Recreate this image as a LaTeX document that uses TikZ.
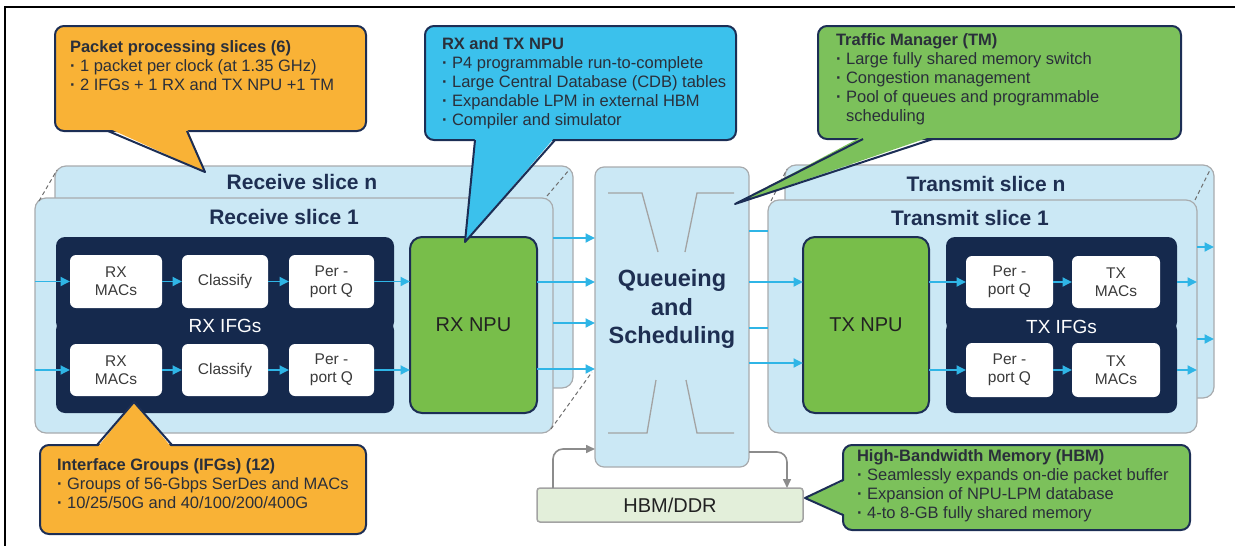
\documentclass[tikz,border=0pt]{standalone}
\usepackage{fontspec}
\setmainfont{Liberation Sans}
\usetikzlibrary{arrows.meta,calc}
\definecolor{navy}{HTML}{15294D}
\definecolor{slicefill}{HTML}{CBE8F5}
\definecolor{slicegray}{HTML}{A8ABAE}
\definecolor{npugreen}{HTML}{78BE4A}
\definecolor{callorange}{HTML}{F9B236}
\definecolor{callblue}{HTML}{3BC1EC}
\definecolor{callgreen}{HTML}{7CC15B}
\definecolor{calledge}{HTML}{1C2E55}
\definecolor{arrowblue}{HTML}{2FB5E6}
\definecolor{hbmfill}{HTML}{E3EFDA}
\definecolor{txtdark}{HTML}{1E2F52}
\definecolor{funnelgray}{HTML}{A3A3A3}
\definecolor{memgray}{HTML}{8C8C8C}
\definecolor{dashgray}{HTML}{6E6E6E}
\definecolor{stagetxt}{HTML}{3A3A3A}
\definecolor{npuTxt}{HTML}{222222}
\definecolor{calltxt}{HTML}{2A2F3A}
\newcommand{\bul}{\textbf{·}~}
\begin{document}
\begin{tikzpicture}[x=1pt,y=-1pt,
 every node/.style={inner sep=0pt, outer sep=0pt},
 slice/.style={draw=slicegray, fill=slicefill, line width=1.2pt, rounded corners=11pt},
 slicetitle/.style={text=txtdark, font=\fontsize{21}{24}\selectfont\bfseries},
 ifgblock/.style={fill=navy, rounded corners=9pt},
 ifglabel/.style={text=white, font=\fontsize{19}{22}\selectfont},
 stage/.style={fill=white, rounded corners=6pt, align=center, text=stagetxt, font=\fontsize{15.5}{18}\selectfont},
 npu/.style={fill=npugreen, draw=calledge, line width=2pt, rounded corners=12pt, text=npuTxt, font=\fontsize{20}{24}\selectfont},
 flow/.style={draw=arrowblue, line width=1.8pt, -{Triangle[length=9.5pt,width=9pt]}},
 flowline/.style={draw=arrowblue, line width=1.8pt},
 memflow/.style={draw=memgray, line width=1.6pt, rounded corners=10pt, -{Triangle[length=9pt,width=8pt]}},
 slicedash/.style={draw=dashgray, line width=1pt, dash pattern=on 4pt off 3pt},
 funnelline/.style={draw=funnelgray, line width=1.3pt},
 cbox/.style={draw=calledge, line width=2pt, rounded corners=9pt},
 cside/.style={draw=calledge, line width=2pt, line join=round},
 ctext/.style={anchor=north west, align=left, text=calltxt, font=\fontsize{16.5}{19}\selectfont},
]
\useasboundingbox (0,0) rectangle (1235,546);
% frame
\draw[line width=2pt] (5,546) -- (5,7) -- (1235,7);

% ---------- receive slices ----------
\node[slice, minimum width=518pt, minimum height=222pt] (rxn) at (314,277) {};
\node[slicetitle] (rxnT) at (302,182) {Receive slice n};
\node[slice, minimum width=518pt, minimum height=235pt] (rx1) at (294,315.5) {};
\node[slicetitle] (rx1T) at (284,217) {Receive slice 1};
\draw[slicedash] (39,201) -- (57,170);
\draw[slicedash] (547,196) -- (569,170);
\draw[slicedash] (551,429) -- (592,372);

% ---------- transmit slices ----------
\node[slice, minimum width=429pt, minimum height=233pt] (txn) at (999.5,281.5) {};
\node[slicetitle] (txnT) at (986,184) {Transmit slice n};
\node[slice, minimum width=429pt, minimum height=233pt] (tx1) at (982.5,316.5) {};
\node[slicetitle] (tx1T) at (970,218) {Transmit slice 1};
\draw[slicedash] (771,201) -- (787,169);
\draw[slicedash] (1195,200) -- (1210,170);

% ---------- RX IFGs ----------
\node[ifgblock, minimum width=338pt, minimum height=94pt] (rxifgA) at (225,284) {};
\node[ifgblock, minimum width=338pt, minimum height=92pt] (rxifgB) at (225,367) {};
\node[ifglabel] (rxifgL) at (225,326) {RX IFGs};
\node[stage, minimum width=92pt, minimum height=53pt] (rxmac1) at (116,281.5) {RX\\MACs};
\node[stage, minimum width=86pt, minimum height=53pt] (rxcls1) at (225,281.5) {Classify};
\node[stage, minimum width=85pt, minimum height=53pt] (rxq1) at (331.5,281.5) {Per -\\port Q};
\node[stage, minimum width=92pt, minimum height=52pt] (rxmac2) at (116,370) {RX\\MACs};
\node[stage, minimum width=86pt, minimum height=52pt] (rxcls2) at (225,370) {Classify};
\node[stage, minimum width=85pt, minimum height=52pt] (rxq2) at (331.5,370) {Per -\\port Q};

% ---------- RX NPU ----------
\node[npu, minimum width=127pt, minimum height=176pt] (rxnpu) at (473.5,325) {RX NPU};

\draw[flow] (rx1.west |- rxmac1.west) -- (rxmac1.west);
\draw[flow] (rxmac1) -- (rxcls1);
\draw[flow] (rxcls1) -- (rxq1);
\draw[flow] (rxq1) -- (rxq1 -| rxnpu.west);
\draw[flow] (rx1.west |- rxmac2.west) -- (rxmac2.west);
\draw[flow] (rxmac2) -- (rxcls2);
\draw[flow] (rxcls2) -- (rxq2);
\draw[flow] (rxq2) -- (rxq2 -| rxnpu.west);

% ---------- TX IFGs ----------
\node[ifgblock, minimum width=231pt, minimum height=94pt] (txifgA) at (1061.5,284) {};
\node[ifgblock, minimum width=231pt, minimum height=92pt] (txifgB) at (1061.5,367) {};
\node[ifglabel] (txifgL) at (1061.5,327) {TX IFGs};
\node[stage, minimum width=87pt, minimum height=52pt] (txq1) at (1009.5,282) {Per -\\port Q};
\node[stage, minimum width=88pt, minimum height=52pt] (txmac1) at (1116,282) {TX\\MACs};
\node[stage, minimum width=87pt, minimum height=54pt] (txq2) at (1009.5,370) {Per -\\port Q};
\node[stage, minimum width=88pt, minimum height=54pt] (txmac2) at (1116,370) {TX\\MACs};

% ---------- TX NPU ----------
\node[npu, minimum width=126pt, minimum height=176pt] (txnpu) at (866,325) {TX NPU};

\draw[flow] (txnpu.east |- txq1) -- (txq1);
\draw[flow] (txq1) -- (txmac1);
\draw[flow] (txnpu.east |- txq2) -- (txq2);
\draw[flow] (txq2) -- (txmac2);
\draw[flow] (txifgA.east |- txmac1) -- (tx1.east |- txmac1);
\draw[flow] (txifgB.east |- txmac2) -- (tx1.east |- txmac2);
\draw[flow] (tx1.east |- 0,247) -- (txn.east |- 0,247);
\draw[flow] (tx1.east |- 0,339) -- (txn.east |- 0,339);

% ---------- Queueing and Scheduling ----------
\node[slice, rounded corners=9pt, minimum width=154pt, minimum height=300pt] (qs) at (672,317) {};
\draw[funnelline] (608,193) -- (642,193) -- (658,252);
\draw[funnelline] (734,193) -- (697,193) -- (685,252);
\draw[funnelline] (608,433) -- (647,433) -- (656,380);
\draw[funnelline] (734,433) -- (697,433) -- (686,380);
\node[text=txtdark, font=\fontsize{23.5}{28.5}\selectfont\bfseries, align=center] (qsT) at (672,309) {Queueing\\and\\Scheduling};

\draw[flow] (rx1.east |- 0,238) -- (qs.west |- 0,238);
\draw[flow] (rxnpu.east |- 0,282) -- (qs.west |- 0,282);
\draw[flow] (rx1.east |- 0,323) -- (qs.west |- 0,323);
\draw[flow] (rxnpu.east |- 0,369) -- (qs.west |- 0,369);
\draw[flowline] (qs.east |- 0,231) -- (tx1.west |- 0,231);
\draw[flow] (qs.east |- 0,282) -- (txnpu.west |- 0,282);
\draw[flowline] (qs.east |- 0,328) -- (tx1.west |- 0,328);
\draw[flow] (qs.east |- 0,363) -- (txnpu.west |- 0,363);

% ---------- HBM/DDR ----------
\node[draw=funnelgray, fill=hbmfill, line width=1.5pt, rounded corners=3pt, minimum width=266pt, minimum height=34pt, text=npuTxt, font=\fontsize{20}{24}\selectfont] (hbm) at (670,505) {HBM/DDR};
\draw[memflow] ([xshift=16pt]hbm.north west) |- (qs.west |- 0,449);
\draw[memflow] (qs.east |- 0,452) -| ([xshift=-16pt]hbm.north east);

% ---------- callouts ----------
% packet processing slices
\node[cbox, fill=callorange, minimum width=311pt, minimum height=105pt] (ppsBox) at (210.5,78.5) {};
\fill[callorange] (108,128) -- (205,172) -- (187,128) -- cycle;
\draw[cside] (108,131) -- (205,172) -- (187,131);
\node[ctext] (ppsTxt) at (70,41) {\textbf{Packet processing slices (6)}\\\bul 1 packet per clock (at 1.35 GHz)\\\bul 2 IFGs + 1 RX and TX NPU +1 TM};

% RX and TX NPU
\node[cbox, fill=callblue, minimum width=311pt, minimum height=114pt] (npuBox) at (580.5,83) {};
\fill[callblue] (475,137) -- (465,242) -- (555,137) -- cycle;
\draw[cside] (475,140) -- (465,242) -- (555,140);
\node[ctext] (npuTxt) at (442,38) {\textbf{RX and TX NPU}\\\bul P4 programmable run-to-complete\\\bul Large Central Database (CDB) tables\\\bul Expandable LPM in external HBM\\\bul Compiler and simulator};

% Traffic manager
\node[cbox, fill=callgreen, minimum width=363pt, minimum height=113pt] (tmBox) at (999.5,82.5) {};
\fill[callgreen] (863,136) -- (735,204) -- (933,136) -- cycle;
\draw[cside] (863,139) -- (735,204) -- (933,139);
\node[ctext] (tmTxt) at (836,34) {\textbf{Traffic Manager (TM)}\\\bul Large fully shared memory switch\\\bul Congestion management\\\bul Pool of queues and programmable\\\hphantom{\bul}scheduling};

% Interface groups
\node[cbox, fill=callorange, minimum width=326pt, minimum height=89pt] (ifgBox) at (203,489.5) {};
\fill[callorange] (97,448) -- (134,402) -- (172,448) -- cycle;
\draw[cside] (97,445) -- (134,402) -- (172,445);
\node[ctext] (ifgTxt) at (57,459) {\textbf{Interface Groups (IFGs) (12)}\\\bul Groups of 56-Gbps SerDes and MACs\\\bul 10/25/50G and 40/100/200/400G};

% High-bandwidth memory
\node[cbox, fill=callgreen, minimum width=347pt, minimum height=85pt] (hbmBox) at (1016.5,487.5) {};
\fill[callgreen] (846,480) -- (805,498) -- (846,515) -- cycle;
\draw[cside] (843,480) -- (805,498) -- (843,515);
\node[ctext] (hbmTxt) at (857,450) {\textbf{High-Bandwidth Memory (HBM)}\\\bul Seamlessly expands on-die packet buffer\\\bul Expansion of NPU-LPM database\\\bul 4-to 8-GB fully shared memory};
\end{tikzpicture}
\end{document}
